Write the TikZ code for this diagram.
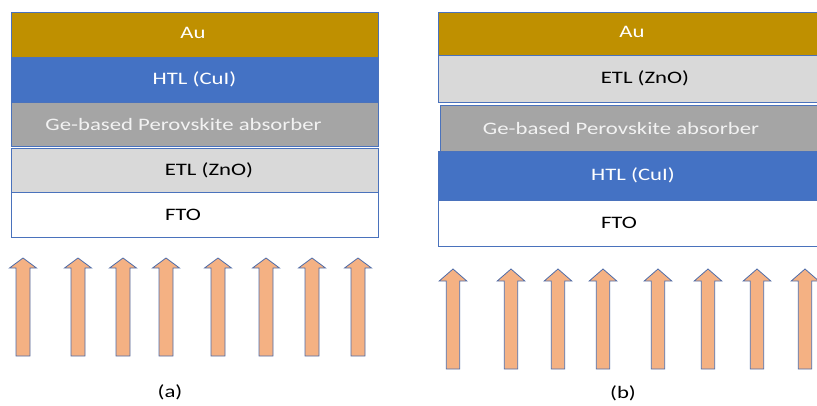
\documentclass[tikz,border=0pt]{standalone}
\usepackage{fontspec}
\newfontfamily\layerfont[FakeStretch=1.3]{Carlito}
\usetikzlibrary{positioning}
\definecolor{auclr}{HTML}{BF9000}
\definecolor{htlclr}{HTML}{4472C4}
\definecolor{pvkclr}{HTML}{A5A5A5}
\definecolor{etlclr}{HTML}{D9D9D9}
\definecolor{edgeclr}{HTML}{4A72BC}
\definecolor{beamclr}{HTML}{F4B183}
\definecolor{beamedge}{HTML}{4F6CA8}

\begin{document}
\begin{tikzpicture}[x=1pt, y=-1pt,
    layer/.style = {draw=edgeclr, line width=.8pt, inner sep=0pt, outer sep=0pt},
    lbl/.style = {font=\layerfont\fontsize{17.5}{17.5}\selectfont, inner sep=0pt},
    beam/.style = {draw=beamedge, fill=beamclr, line width=.8pt, line join=miter}]
    \clip (0,0) rectangle (817,405);

    \node[layer, fill=auclr, minimum width=367pt, minimum height=45pt] (auA) at (194.5,34.5) {};
    \node[layer, fill=htlclr, minimum width=367pt, minimum height=45pt, below=0pt of auA] (htlA) {};
    \node[layer, fill=pvkclr, minimum width=367pt, minimum height=44pt, below=0pt of htlA] (pvkA) {};
    \node[layer, fill=etlclr, minimum width=367pt, minimum height=44pt, below=2pt of pvkA] (etlA) {};
    \node[layer, fill=white, minimum width=367pt, minimum height=45pt, below=0pt of etlA] (ftoA) {};

    \node[lbl, text=white] (tauA) at ([xshift=-1.5pt, yshift=2pt]auA) {Au};
    \node[lbl, text=white] (thtlA) at (htlA) {HTL (CuI)};
    \node[lbl, text=black!5] (tpvkA) at ([xshift=-11pt]pvkA) {Ge-based Perovskite absorber};
    \node[lbl] (tetlA) at ([xshift=14.5pt]etlA) {ETL (ZnO)};
    \node[lbl] (tftoA) at ([xshift=-11.5pt]ftoA) {FTO};

    \node[layer, fill=auclr, minimum width=382pt, minimum height=43pt] (auB) at (629,33.5) {};
    \node[layer, fill=etlclr, minimum width=382pt, minimum height=47pt, below=0pt of auB] (etlB) {};
    \node[layer, fill=pvkclr, minimum width=380pt, minimum height=46pt, below=3pt of etlB.south east, anchor=north east] (pvkB) {};
    \node[layer, fill=htlclr, minimum width=382pt, minimum height=49pt, below=0pt of pvkB.south east, anchor=north east] (htlB) {};
    \node[layer, fill=white, minimum width=382pt, minimum height=46pt, below=0pt of htlB] (ftoB) {};

    \node[lbl, text=white] (tauB) at ([xshift=3pt, yshift=2pt]auB) {Au};
    \node[lbl] (tetlB) at ([xshift=16pt]etlB) {ETL (ZnO)};
    \node[lbl, text=black!5] (tpvkB) at ([xshift=-9pt]pvkB) {Ge-based Perovskite absorber};
    \node[lbl, text=white] (thtlB) at ([xshift=4pt]htlB) {HTL (CuI)};
    \node[lbl] (tftoB) at ([xshift=-10pt]ftoB) {FTO};

    \foreach \x in {23,78,123,166,218,266,312,358}
        \draw[beam] ({\x-7},356) -- ({\x-7},268) -- ({\x-13.5},268) -- (\x,258)
            -- ({\x+13.5},268) -- ({\x+7},268) -- ({\x+7},356) -- cycle;
    \foreach \x in {453,511,558,603,658,708,757,805}
        \draw[beam] ({\x-6.7},369) -- ({\x-6.7},281) -- ({\x-13.8},281) -- (\x,269)
            -- ({\x+13.8},281) -- ({\x+6.7},281) -- ({\x+6.7},369) -- cycle;

    \node[lbl] (capA) at (170,392) {(a)};
    \node[lbl] (capB) at (623,393) {(b)};
\end{tikzpicture}
\end{document}
